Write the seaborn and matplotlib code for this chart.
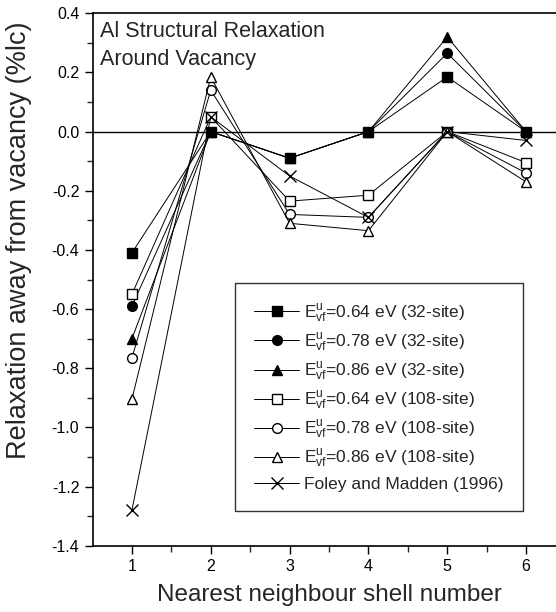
import numpy as np
import pandas as pd
import matplotlib
matplotlib.use("Agg")
import matplotlib.pyplot as plt
import seaborn as sns

# Data
shells = [1, 2, 3, 4, 5, 6]
e064_32 = [-0.41, 0.00, -0.09, 0.00, 0.185, 0.00]
e078_32 = [-0.59, 0.00, -0.09, 0.00, 0.265, 0.00]
e086_32 = [-0.70, 0.00, -0.09, 0.00, 0.32, 0.00]
e064_108 = [-0.55, 0.05, -0.235, -0.215, 0.00, -0.105]
e078_108 = [-0.765, 0.14, -0.28, -0.29, 0.00, -0.14]
e086_108 = [-0.905, 0.185, -0.31, -0.335, 0.00, -0.17]
foley = [-1.28, 0.05, -0.15, -0.29, 0.00, -0.03]

labels = [
    r"E$^{\mathregular{u}}_{\mathregular{vf}}$=0.64 eV (32-site)",
    r"E$^{\mathregular{u}}_{\mathregular{vf}}$=0.78 eV (32-site)",
    r"E$^{\mathregular{u}}_{\mathregular{vf}}$=0.86 eV (32-site)",
    r"E$^{\mathregular{u}}_{\mathregular{vf}}$=0.64 eV (108-site)",
    r"E$^{\mathregular{u}}_{\mathregular{vf}}$=0.78 eV (108-site)",
    r"E$^{\mathregular{u}}_{\mathregular{vf}}$=0.86 eV (108-site)",
    "Foley and Madden (1996)",
]
series = [e064_32, e078_32, e086_32, e064_108, e078_108, e086_108, foley]
markers = ["s", "o", "^", "s", "o", "^", "x"]
filled = [True, True, True, False, False, False, True]
yticks = [-1.4, -1.2, -1.0, -0.8, -0.6, -0.4, -0.2, 0.0, 0.2, 0.4]
ytick_labels = ["-1.4", "-1.2", "-1.0", "-0.8", "-0.6", "-0.4", "-0.2", "0.0", "0.2", "0.4"]

sns.set_style("ticks")
plt.rcParams["font.family"] = ["Liberation Sans", "DejaVu Sans"]
plt.rcParams["mathtext.fontset"] = "custom"
plt.rcParams["mathtext.rm"] = "Liberation Sans"
plt.rcParams["mathtext.it"] = "Liberation Sans"

fig = plt.figure(figsize=(5.56, 6.12), dpi=100)
ax = fig.add_axes([92.5 / 556, 1 - 545.7 / 612, 473 / 556, 532.4 / 612])

for vals, lab, mk, fill in zip(series, labels, markers, filled):
    df = pd.DataFrame({"shell": shells, "val": vals})
    sns.lineplot(data=df, x="shell", y="val", ax=ax, color="black", lw=0.7,
                 marker=mk, markersize=7 if mk != "x" else 8,
                 markerfacecolor="black" if fill else "white",
                 markeredgecolor="black", markeredgewidth=1.0,
                 label=lab)

ax.axhline(0, color="black", lw=1.0, zorder=1)

ax.set_xlim(0.5, 6.5)
ax.set_ylim(-1.4, 0.4)
ax.set_xticks(shells)
ax.set_xticks(np.arange(1.5, 6.6, 1.0), minor=True)
ax.set_yticks(yticks)
ax.set_yticklabels(ytick_labels)
ax.set_yticks(np.arange(-1.3, 0.4, 0.2), minor=True)
ax.tick_params(which="major", direction="out", length=6, width=1, labelsize=11.5, colors="black")
ax.tick_params(which="minor", direction="out", length=4, width=1)
for s in ["left", "bottom", "top"]:
    ax.spines[s].set_linewidth(1.2)
    ax.spines[s].set_color("black")
ax.spines["right"].set_visible(False)

ax.set_xlabel("Nearest neighbour shell number", fontsize=17.5)
ax.xaxis.set_label_coords(0.5, -0.072, transform=ax.transAxes)
ax.xaxis.label.set_va("top")
ax.set_ylabel("Relaxation away from vacancy (%lc)", fontsize=19.5)
ax.yaxis.set_label_coords(-0.128, 0.573)

ax.text(0.016, 0.985, "Al Structural Relaxation\nAround Vacancy", transform=ax.transAxes,
        fontsize=15.5, va="top", ha="left", linespacing=1.45)

leg = ax.legend(loc="upper left", bbox_to_anchor=((235 - 92.5) / 473, (545.7 - 283) / 532.4),
                fontsize=12.5, frameon=True, fancybox=False, edgecolor="black",
                handlelength=2.6, handletextpad=0.3, labelspacing=0.38, borderpad=1.1,
                borderaxespad=0)
leg.get_frame().set_linewidth(1.0)

fig.savefig("out.png", dpi=100)
